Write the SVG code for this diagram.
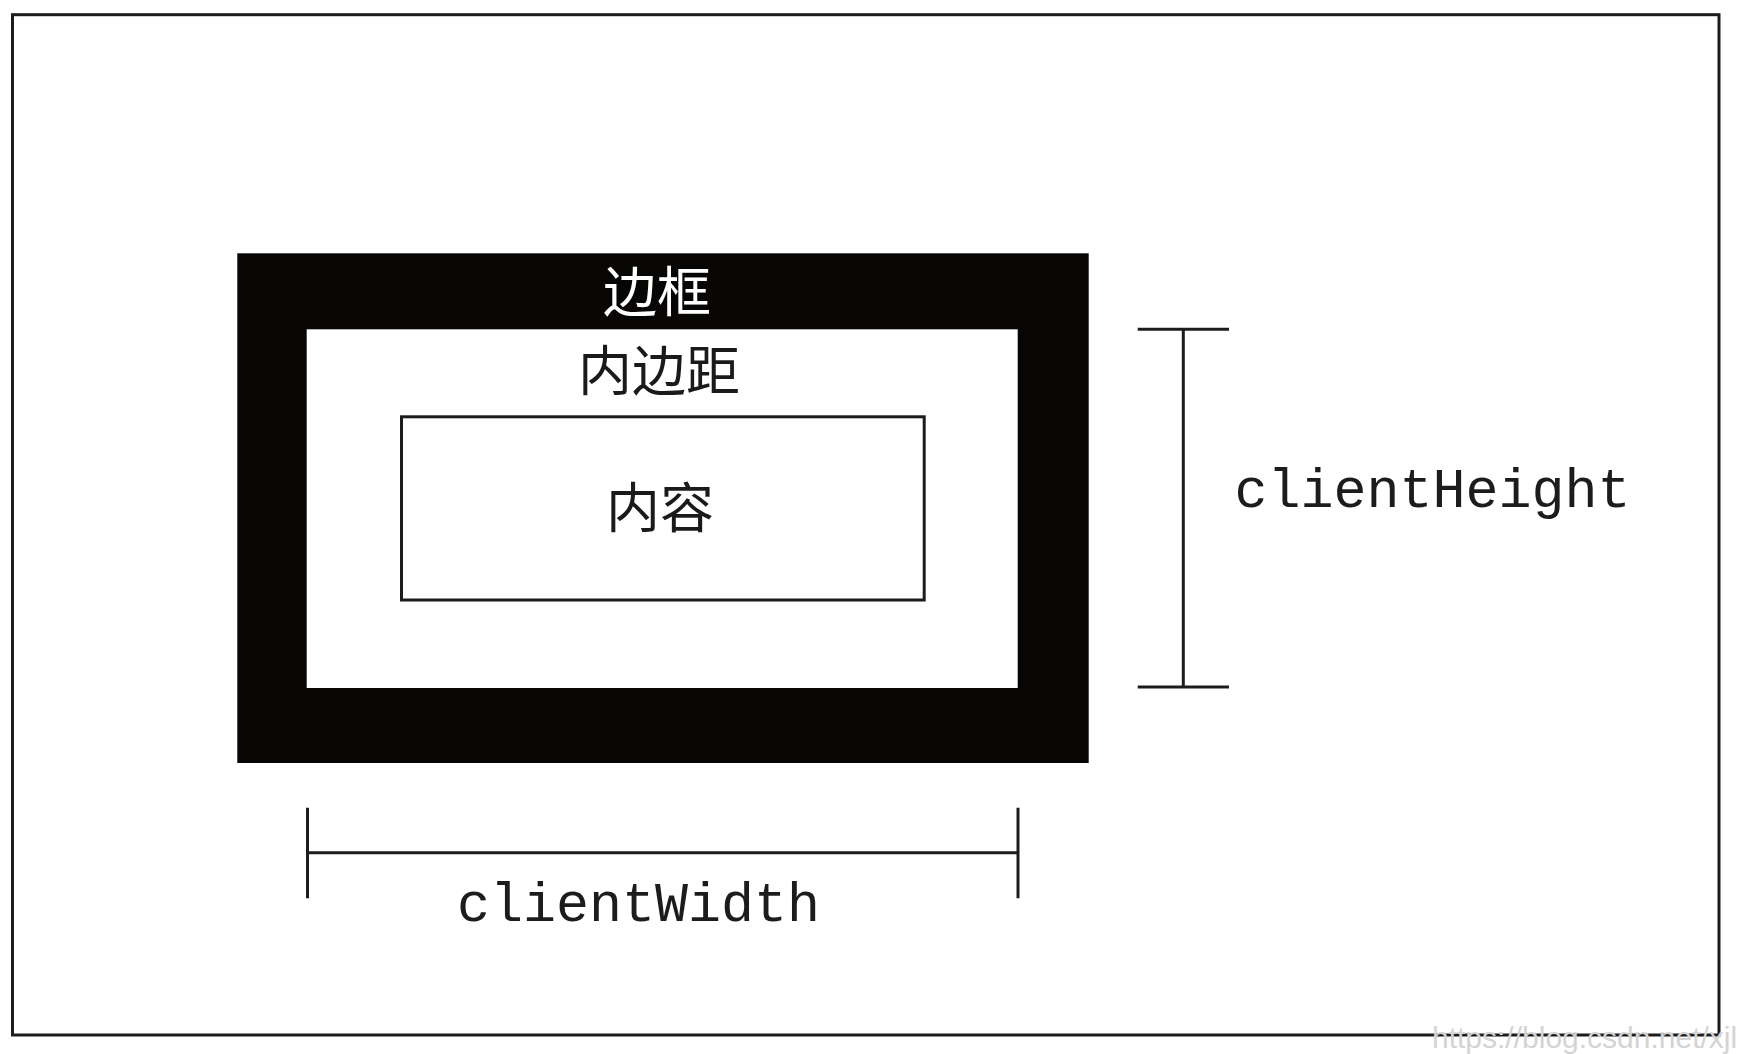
<svg xmlns="http://www.w3.org/2000/svg" width="1738" height="1054" viewBox="0 0 1738 1054">
  <style>
    .ln { stroke: #1c1c1c; stroke-width: 3; fill: none; }
    .cjk { font-family: "Noto Sans CJK SC", "Noto Sans CJK TC", sans-serif; font-size: 54px; text-anchor: middle; }
    .mono { font-family: "Liberation Mono", "DejaVu Sans Mono", monospace; font-size: 55px; fill: #1c1c1c; text-anchor: middle; }
    .wm { font-family: "Liberation Sans", Arial, sans-serif; font-size: 30px; fill: #d4d4d4; }
  </style>
  <rect width="1738" height="1054" fill="#ffffff"/>
  <g id="frame">
    <rect x="12.5" y="14.7" width="1706.5" height="1020.3" class="ln"/>
  </g>
  <g id="border">
    <rect x="237.3" y="253.3" width="851.4" height="509.7" fill="#070604"/>
    <text x="657" y="312" class="cjk" fill="#ffffff">边框</text>
  </g>
  <g id="padding">
    <rect x="306.7" y="329.3" width="711" height="358.7" fill="#ffffff"/>
    <text x="659" y="391" class="cjk" fill="#1a1a1a">内边距</text>
  </g>
  <g id="content">
    <rect x="401.5" y="416.8" width="522.7" height="183.2" class="ln" fill="#ffffff"/>
    <text x="660" y="528" class="cjk" fill="#1a1a1a">内容</text>
  </g>
  <g id="connectors">
    <path class="ln" d="M1137.7 329.3 H1229 M1183.3 329.3 V687 M1137.7 687 H1229"/>
    <path class="ln" d="M307.5 807.7 V898.3 M307.5 852.7 H1018 M1018 807.7 V898.3"/>
  </g>
  <g id="clientHeight">
    <text x="1432.5" y="507" class="mono">clientHeight</text>
  </g>
  <g id="clientWidth">
    <text x="638.5" y="921" class="mono">clientWidth</text>
  </g>
  <text x="1432" y="1048" class="wm">https://blog.csdn.net/xjl</text>
</svg>
